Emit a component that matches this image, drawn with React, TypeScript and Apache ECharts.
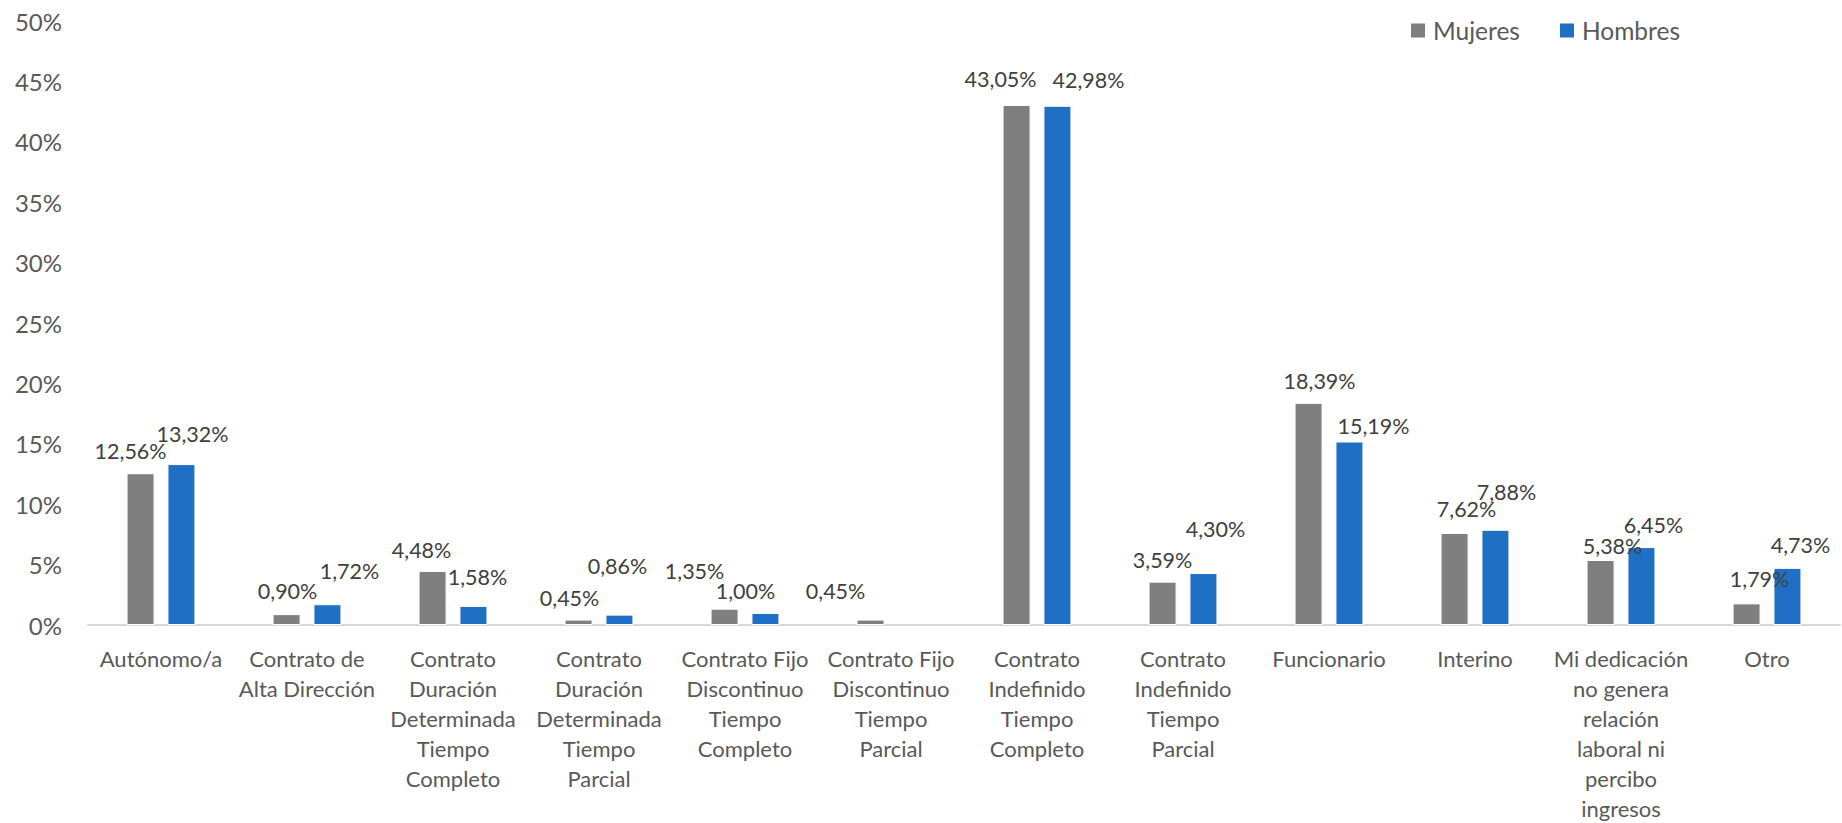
import React, { useEffect, useRef } from "react";
import * as echarts from "echarts";

const categories = [
  "Autónomo/a",
  "Contrato de\nAlta Dirección",
  "Contrato\nDuración\nDeterminada\nTiempo\nCompleto",
  "Contrato\nDuración\nDeterminada\nTiempo\nParcial",
  "Contrato Fijo\nDiscontinuo\nTiempo\nCompleto",
  "Contrato Fijo\nDiscontinuo\nTiempo\nParcial",
  "Contrato\nIndefinido\nTiempo\nCompleto",
  "Contrato\nIndefinido\nTiempo\nParcial",
  "Funcionario",
  "Interino",
  "Mi dedicación\nno genera\nrelación\nlaboral ni\npercibo\ningresos",
  "Otro",
];

const mujeres = [12.56, 0.9, 4.48, 0.45, 1.35, 0.45, 43.05, 3.59, 18.39, 7.62, 5.38, 1.79];
const hombres = [13.32, 1.72, 1.58, 0.86, 1.0, null, 42.98, 4.3, 15.19, 7.88, 6.45, 4.73];

const yTicks = { min: 0, max: 50, interval: 5 };

// label nudges (style only), mimicking the reference's label placement
const mujeresNudge: [number, number][] = [
  [-10, -6], [1, -7], [-11, -5], [-9, -6], [-30, -22], [-35, -13],
  [-16, -10], [0, -6], [11, -6], [12, -8], [12, 2], [13, -8],
];
const hombresNudge: [number, number][] = [
  [11, -14], [22, -17], [4, -13], [-2, -33], [-20, -6], [0, 0],
  [31, -10], [12, -28], [24, 0], [11, -22], [12, -6], [13, -7],
];

const FONT = "Lato, 'Open Sans', sans-serif";

const fmt = (v: number) => v.toFixed(2).replace(".", ",") + "%";

export default function App() {
  const ref = useRef<HTMLDivElement>(null);
  useEffect(() => {
    if (!ref.current) return;
    const chart = echarts.init(ref.current, undefined, { renderer: "svg" });
    const build = (vals: (number | null)[], nudge: [number, number][]) =>
      vals.map((v, i) =>
        v == null ? "-" : { value: v, label: { offset: nudge[i] } }
      );
    const labelStyle = {
      show: true,
      position: "top" as const,
      distance: 5,
      color: "#404040",
      fontFamily: FONT,
      fontSize: 21.5,
      formatter: (p: any) => fmt(p.value),
    };
    chart.setOption({
      animation: false,
      textStyle: { fontFamily: FONT },
      legend: {
        left: 1404,
        top: 13,
        itemWidth: 16,
        itemHeight: 16,
        itemGap: 38,
        icon: "rect",
        textStyle: { color: "#595959", fontSize: 24.5, fontFamily: FONT, padding: [0, 0, 0, 2] },
        data: ["Mujeres", "Hombres"],
      },
      grid: { left: 88, right: 2, top: 21, bottom: 194, containLabel: false },
      xAxis: {
        type: "category",
        data: categories,
        axisLine: { lineStyle: { color: "#d9d9d9", width: 2 } },
        axisTick: { show: false },
        axisLabel: {
          interval: 0,
          color: "#595959",
          fontFamily: FONT,
          fontSize: 22,
          lineHeight: 30,
          margin: 18,
        },
      },
      yAxis: {
        type: "value",
        min: yTicks.min,
        max: yTicks.max,
        interval: yTicks.interval,
        axisLine: { show: false },
        axisTick: { show: false },
        splitLine: { show: false },
        axisLabel: {
          formatter: "{value}%",
          color: "#595959",
          fontFamily: FONT,
          fontSize: 24,
          margin: 26,
        },
      },
      series: [
        {
          name: "Mujeres",
          type: "bar",
          barWidth: 28,
          barGap: "46%",
          itemStyle: { color: "#7f7f7f", borderColor: "#ffffff", borderWidth: 1 },
          label: labelStyle,
          data: build(mujeres, mujeresNudge),
        },
        {
          name: "Hombres",
          type: "bar",
          barWidth: 28,
          itemStyle: { color: "#1f6fc5", borderColor: "#ffffff", borderWidth: 1 },
          label: labelStyle,
          data: build(hombres, hombresNudge),
        },
      ],
    });
    return () => chart.dispose();
  }, []);
  return (
    <div
      ref={ref}
      style={{ position: "fixed", left: 0, top: 0, width: 1842, height: 823, background: "#fff" }}
    />
  );
}
